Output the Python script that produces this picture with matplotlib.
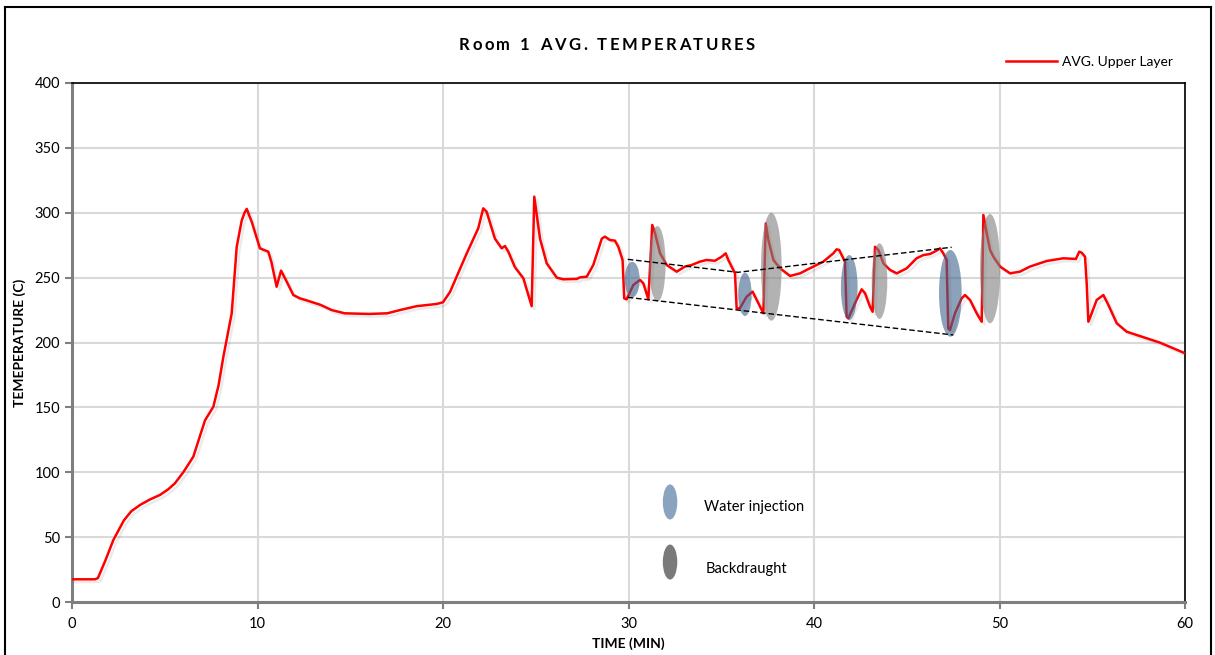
import matplotlib
matplotlib.use("Agg")
import matplotlib.pyplot as plt
from matplotlib.patches import Ellipse
from matplotlib.lines import Line2D
import matplotlib.patheffects as pe

plt.rcParams['font.family'] = ['Lato', 'DejaVu Sans']

# ---- data ----
time_min = [0, 1.25, 1.4, 1.8, 2.23, 2.8, 3.2, 3.67, 4.2, 4.74, 5.2, 5.55, 6.0, 6.54, 7.17,
            7.62, 7.9, 8.16, 8.61, 8.88, 9.15, 9.3, 9.42, 9.55, 9.69, 10.13, 10.58, 10.75,
            11.03, 11.27, 11.57, 11.93, 12.29, 12.6, 13.4, 14.0, 14.7, 16.0, 17.0, 17.68,
            18.58, 19.66, 20.0, 20.38, 21.28, 21.9, 22.17, 22.35, 22.8, 23.16, 23.34, 23.52,
            23.88, 24.33, 24.78, 24.92, 25.23, 25.59, 26.13, 26.49, 27.21, 27.39, 27.75, 28.1,
            28.56, 28.73, 29.0, 29.27, 29.45, 29.68, 29.77, 29.9, 30.26, 30.62, 30.8, 31.07,
            31.28, 31.43, 31.7, 32.06, 32.6, 33.04, 33.4, 33.85, 34.21, 34.66, 35.02, 35.24,
            35.38, 35.74, 35.83, 36.0, 36.37, 36.69, 37.0, 37.27, 37.4, 37.54, 37.81, 38.17,
            38.71, 39.25, 39.78, 40.32, 40.5, 41.04, 41.22, 41.36, 41.49, 41.67, 41.76, 41.85,
            42.21, 42.57, 42.75, 43.02, 43.16, 43.29, 43.47, 43.74, 44.1, 44.46, 45.0, 45.53,
            45.9, 46.25, 46.61, 46.79, 46.97, 47.15, 47.24, 47.33, 47.6, 47.96, 48.14, 48.41,
            48.77, 49.04, 49.13, 49.31, 49.49, 49.67, 50.03, 50.57, 51.1, 51.64, 52.54, 53.44,
            54.12, 54.3, 54.43, 54.61, 54.7, 54.79, 54.97, 55.24, 55.6, 55.87, 56.32, 56.86,
            57.94, 58.65, 60.0]
upper_layer = [17.5, 17.5, 18.5, 32, 47.8, 63, 70, 74.8, 79, 82.5, 87, 91.5, 100, 112, 140,
               150.5, 167, 189, 222.5, 273.8, 294, 300, 303, 298, 293, 272.6, 270, 262,
               243, 255.4, 247, 236.6, 234, 232.7, 229, 225, 222.5, 222, 222.5, 225,
               228, 229.7, 231, 239, 268.7, 288, 303.4, 300.8, 280, 272.6, 274.4, 270,
               258, 249.5, 228, 312.4, 280, 261, 250, 248.7, 249, 250.2, 250.7, 259.7,
               280, 281.6, 279, 278.5, 273.8, 263.6, 234, 233.3, 244.3, 248.2, 245.6, 233.3,
               290.6, 284.2, 268.7, 259.7, 254.6, 258.5, 259.7, 262.3, 263.6, 263, 266.1, 268.7,
               263.6, 253.3, 226.3, 226.3, 235.3, 239.2, 230.2, 222.5, 291.8, 279, 263.6, 257.2,
               251.3, 253.3, 257.2, 261, 262.3, 268.7, 271.8, 271.3, 267.4, 262.3, 219.9, 218.6,
               230.2, 241, 238, 227.6, 223.7, 273.8, 271.3, 261, 255.9, 253.3, 257.2, 264.9,
               267.4, 268.2, 270.8, 272.6, 268.7, 263.6, 211, 209.6, 222.5, 234, 236.6, 232.8,
               222.5, 216, 298.3, 284.2, 271.3, 266.1, 258.5, 253.3, 254.6, 258.5, 262.8, 264.9,
               264.4, 270, 269.2, 266.1, 245.6, 216, 222.5, 232.8, 236.6, 228.9, 214.8, 208.3,
               203.2, 199.9, 191.7]

# ellipse markers: (time centre, temp centre, width [min], height [C])
water_injection = [(30.2, 248.5, 0.81, 27.4), (36.28, 237.1, 0.72, 33.4),
                   (41.9, 242.4, 0.90, 50.0), (47.35, 237.9, 1.22, 66.8)]
backdraught = [(31.56, 260.6, 0.88, 58.3), (37.7, 258.4, 1.11, 83.2),
               (43.53, 247.3, 0.84, 58.3), (49.49, 256.9, 1.08, 84.2)]

# dashed envelope lines
upper_env_t = [29.96, 35.9, 47.42]
upper_env_T = [264.1, 254.1, 273.4]
lower_env_t = [29.96, 47.51]
lower_env_T = [234.8, 205.8]

x_ticks = [0, 10, 20, 30, 40, 50, 60]
y_ticks = [0, 50, 100, 150, 200, 250, 300, 350, 400]

title_text = 'Room 1 AVG. TEMPERATURES'

# ---- figure ----
W, H = 1215, 655
fig = plt.figure(figsize=(W / 100, H / 100), dpi=100)
ax = fig.add_axes([72 / W, 1 - 602 / H, (1185 - 72) / W, (602 - 83) / H])

ax.set_xlim(0, 60)
ax.set_ylim(0, 400)
ax.set_xticks(x_ticks)
ax.set_yticks(y_ticks)
ax.grid(True, color='#d9d9d9', linewidth=1.5)
ax.set_axisbelow(True)

for s in ['left', 'bottom']:
    ax.spines[s].set_color('#7f7f7f')
    ax.spines[s].set_linewidth(2.2)
for s in ['top', 'right']:
    ax.spines[s].set_color('black')
    ax.spines[s].set_linewidth(1.2)
ax.tick_params(axis='both', colors='#7f7f7f', labelcolor='black', labelsize=10.5,
               length=5, width=1.5, direction='out')
ax.tick_params(axis='x', pad=6)

ax.plot(time_min, upper_layer, color='#ff0000', linewidth=1.8, zorder=3,
        path_effects=[pe.SimpleLineShadow(offset=(2, -2), alpha=0.08), pe.Normal()])

for (t, T, w, h) in water_injection:
    ax.add_patch(Ellipse((t, T), w, h, facecolor='#3f628c', alpha=0.6, edgecolor='none', zorder=4))
for (t, T, w, h) in backdraught:
    ax.add_patch(Ellipse((t, T), w, h, facecolor='#7f7f7f', alpha=0.6, edgecolor='none', zorder=4))

ax.plot(upper_env_t, upper_env_T, color='black', linestyle=(0, (4, 2)), linewidth=1.0, zorder=5)
ax.plot(lower_env_t, lower_env_T, color='black', linestyle=(0, (4, 2)), linewidth=1.0, zorder=5)

# annotation legend for ellipses
ax.add_patch(Ellipse((32.24, 77.1), 0.78, 27, facecolor='#8aa3bf', edgecolor='none', zorder=4))
ax.add_patch(Ellipse((32.24, 30.8), 0.78, 27, facecolor='#7a7a7a', edgecolor='none', zorder=4))
ax.text(34.07, 73.2, 'Water injection', fontsize=10.5, va='center', ha='left')
ax.text(34.18, 25.4, 'Backdraught', fontsize=10.5, va='center', ha='left')

ax.set_xlabel('TIME (MIN)', fontsize=10, fontweight='bold', labelpad=4)
ax.set_ylabel('TEMEPERATURE (C)', fontsize=10, fontweight='bold', labelpad=6)

# title with letter spacing
renderer = fig.canvas.get_renderer()
spacing_px = 2.6
pieces = []
total = 0.0
for ch in title_text:
    t = fig.text(0, 0, ch, fontsize=12, fontweight='bold', va='center', ha='left')
    wch = t.get_window_extent(renderer).width
    if ch == ' ':
        wch = 5.0
    pieces.append((t, wch))
    total += wch + spacing_px
total -= spacing_px
x0 = 607 - total / 2
ty = 1 - 45 / H
for t, wch in pieces:
    t.set_position((x0 / W, ty))
    x0 += wch + spacing_px

leg_handle = Line2D([], [], color='#ff0000', linewidth=1.8)
fig.legend([leg_handle], ['AVG. Upper Layer'], loc='center left',
           bbox_to_anchor=(993 / W, 1 - 62 / H), frameon=False, fontsize=10,
           handlelength=3.7, handletextpad=0.4)

# outer frame of the chart area
fig.add_artist(Line2D([5 / W, 5 / W], [0, 1 - 7 / H], color='black', linewidth=1.5))
fig.add_artist(Line2D([5 / W, 1211 / W], [1 - 7 / H, 1 - 7 / H], color='black', linewidth=1.5))
fig.add_artist(Line2D([1211 / W, 1211 / W], [0, 1 - 7 / H], color='black', linewidth=1.5))

fig.savefig('out.png', dpi=100)
